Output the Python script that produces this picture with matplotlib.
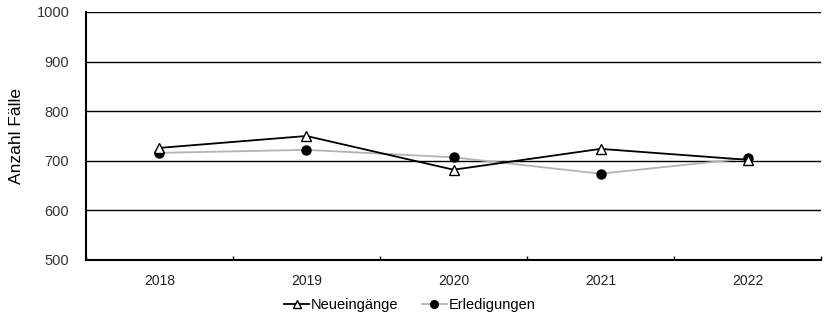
import matplotlib.pyplot as plt
import numpy as np

years = ["2018", "2019", "2020", "2021", "2022"]
neueingaenge = [726, 750, 682, 724, 702]
erledigungen = [716, 722, 707, 674, 705]
y_ticks = [500, 600, 700, 800, 900, 1000]

plt.rcParams['font.family'] = ['Liberation Sans', 'DejaVu Sans']

fig = plt.figure(figsize=(8.25, 3.18), dpi=100)
ax = fig.add_axes([0.1042, 0.1824, 0.8910, 0.7799])

x = np.arange(len(years))
ax.plot(x, erledigungen, color='#b3b3b3', lw=1.3, marker='o', ms=6.5,
        mfc='black', mec='black', label='Erledigungen', zorder=3)
ax.plot(x, neueingaenge, color='black', lw=1.3, marker='^', ms=6.5,
        mfc='white', mec='black', mew=1.0, label='Neueingänge', zorder=4)

ax.set_xlim(-0.5, len(years) - 0.5)
ax.set_ylim(500, 1000)
ax.set_yticks(y_ticks)
ax.set_xticks(x)
ax.set_xticklabels(years)
ax.set_xticks(np.arange(len(years) + 1) - 0.5, minor=True)
ax.tick_params(axis='x', which='major', length=0, pad=10, labelsize=10, colors='#222222')
ax.tick_params(axis='x', which='minor', length=3, direction='in', width=1)
ax.tick_params(axis='y', length=0, pad=12, labelsize=10.5, colors='#333333')

for yv in y_ticks[1:]:
    ax.axhline(yv, color='black', lw=1.0, zorder=1)

for side in ['top', 'right']:
    ax.spines[side].set_visible(False)
for side in ['left', 'bottom']:
    ax.spines[side].set_linewidth(1.5)

ax.set_ylabel('Anzahl Fälle', fontsize=12.5, labelpad=9, color='black')

handles, labels = ax.get_legend_handles_labels()
fig.legend(handles[::-1], labels[::-1], loc='center', bbox_to_anchor=(0.497, 0.04),
           ncol=2, frameon=False, fontsize=10.5, handlelength=1.7, handletextpad=0.15,
           columnspacing=1.6, markerscale=0.85)

fig.savefig('out.png', dpi=100)
